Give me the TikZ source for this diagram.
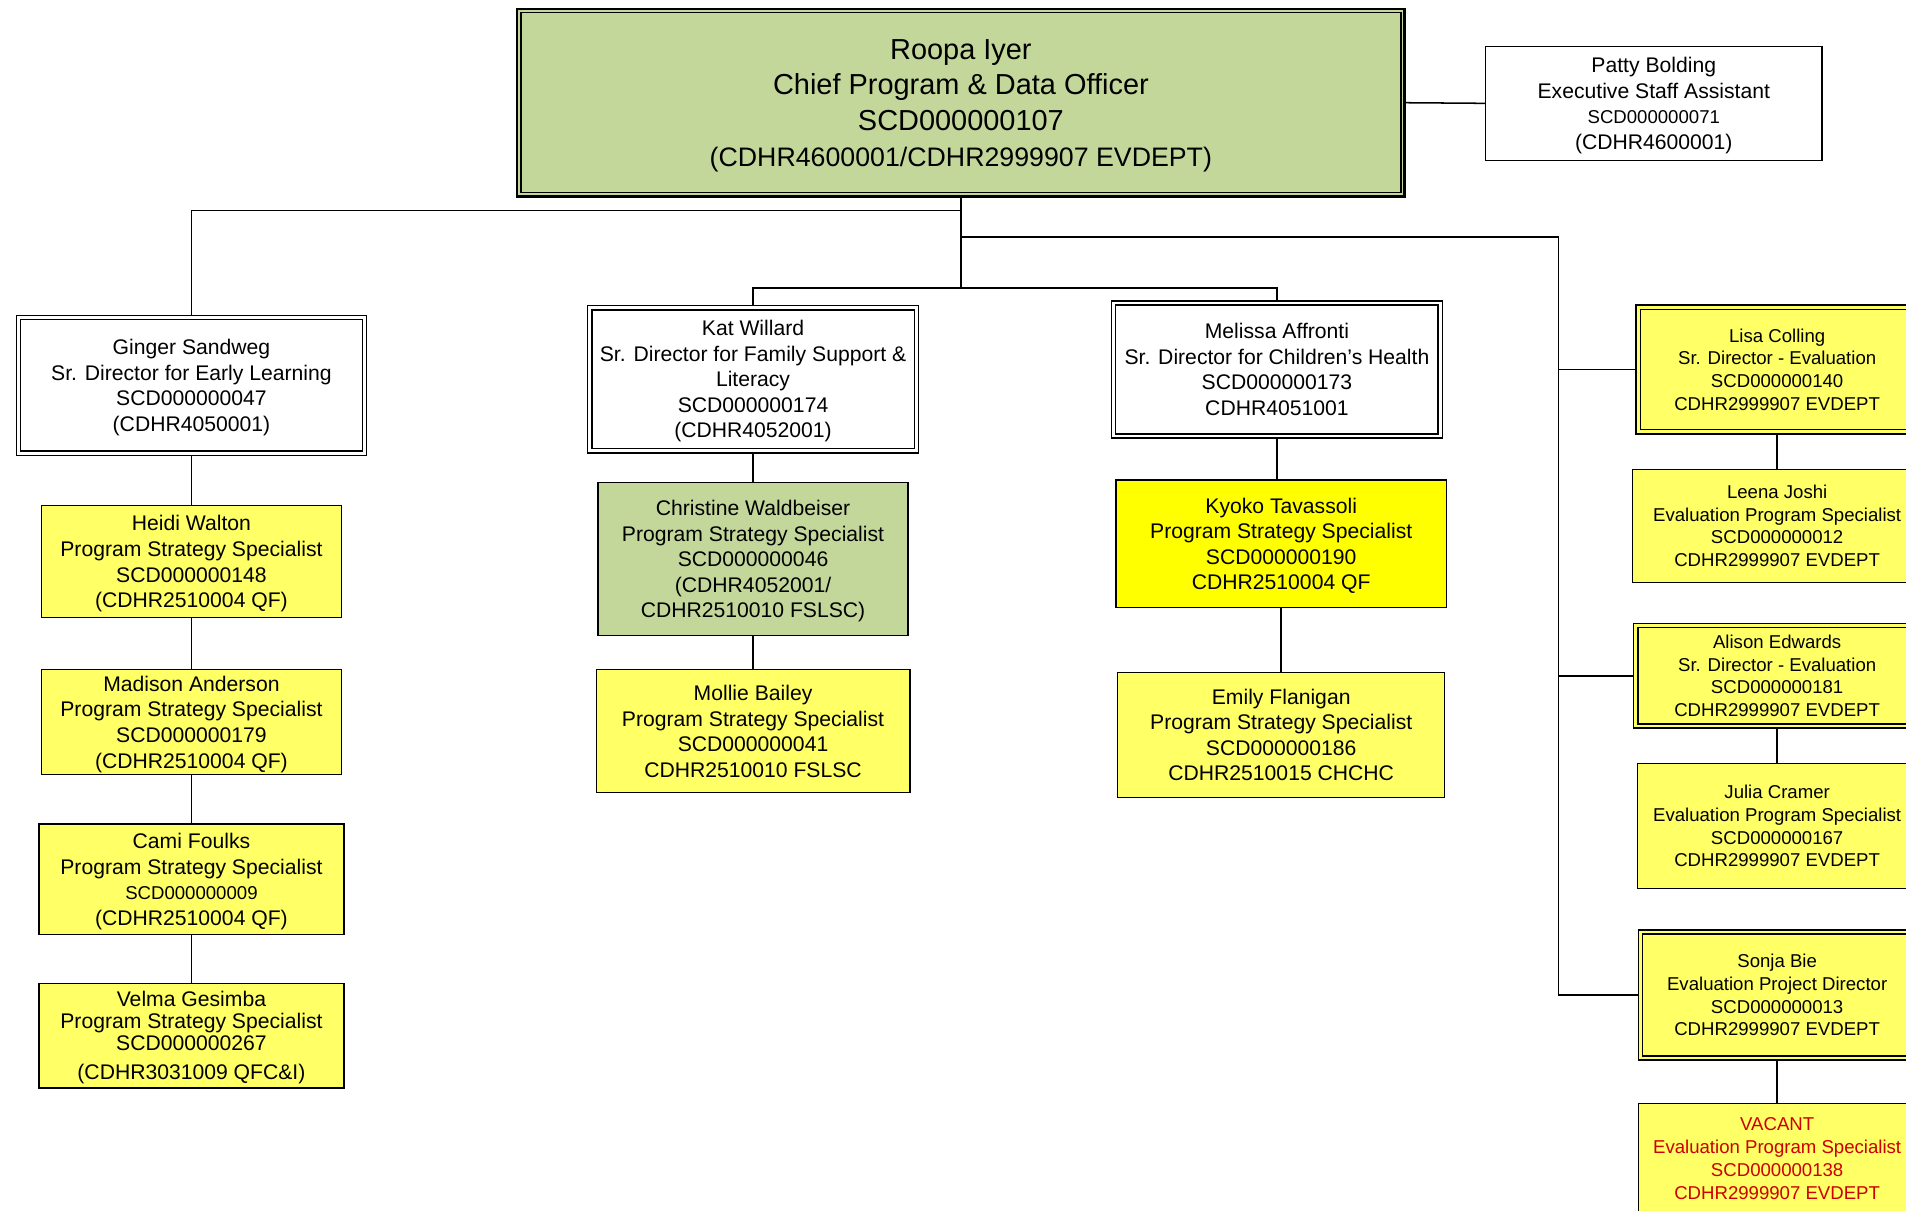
\documentclass[tikz,border=0pt]{standalone}
\usepackage{fontspec}
\setmainfont{Liberation Sans}
\definecolor{paleyel}{RGB}{255,255,102}
\definecolor{brightyel}{RGB}{255,255,0}
\definecolor{sage}{RGB}{196,215,155}
\definecolor{vacred}{RGB}{204,0,0}
\begin{document}
\begin{tikzpicture}[x=1pt,y=-1pt,
  box/.style={draw, line width=1.1pt, align=center, inner sep=0pt, anchor=center,
    text depth=0pt, font=\fontsize{17.4}{21}\selectfont},
  rbox/.style={box, font=\fontsize{15.3}{18.7}\selectfont},
  dbl/.style={line width=1.2pt},
  inner/.style={line width=1.1pt},
  conn/.style={line width=1.25pt}]
\fill[white] (0,0) rectangle (1568,996);
\useasboundingbox (0,0) rectangle (1568,996);

% root and assistant
\node[box, dbl, line width=2pt, fill=sage, minimum width=730pt, minimum height=154pt,
  font=\fontsize{23.8}{29.3}\selectfont] (root) at (790.5,84.5)
  {Roopa Iyer\\Chief Program \& Data Officer\\SCD000000107\\{\fontsize{22}{29.3}\selectfont (CDHR4600001/CDHR2999907 EVDEPT)}};
\node[box, fill=white, minimum width=277pt, minimum height=94pt] (patty) at (1360.5,85)
  {Patty Bolding\\Executive Staff Assistant\\{\fontsize{15.3}{21}\selectfont SCD000000071}\\(CDHR4600001)};

% column 1
\node[box, dbl, fill=white, minimum width=288pt, minimum height=115pt] (ginger) at (157.5,317)
  {Ginger Sandweg\\Sr. Director for Early Learning\\SCD000000047\\(CDHR4050001)};
\node[box, fill=paleyel, minimum width=247pt, minimum height=92pt] (heidi) at (157.5,462)
  {Heidi Walton\\Program Strategy Specialist\\SCD000000148\\(CDHR2510004 QF)};
\node[box, fill=paleyel, minimum width=247pt, minimum height=86pt] (madison) at (157.5,594)
  {Madison Anderson\\Program Strategy Specialist\\SCD000000179\\(CDHR2510004 QF)};
\node[box, fill=paleyel, minimum width=251pt, minimum height=91pt] (cami) at (157.5,723.5)
  {Cami Foulks\\Program Strategy Specialist\\{\fontsize{15.3}{21}\selectfont SCD000000009}\\(CDHR2510004 QF)};
\node[box, fill=paleyel, minimum width=251pt, minimum height=86pt,
  font=\fontsize{17.4}{18}\selectfont] (velma) at (157.5,852)
  {Velma Gesimba\\Program Strategy Specialist\\SCD000000267\\[6pt](CDHR3031009 QFC\&I)};

% column 2
\node[box, dbl, fill=white, minimum width=272pt, minimum height=121pt] (kat) at (619.5,312)
  {Kat Willard\\Sr. Director for Family Support \&\\Literacy\\SCD000000174\\(CDHR4052001)};
\node[box, fill=sage, minimum width=255pt, minimum height=126pt] (christine) at (619.5,460)
  {Christine Waldbeiser\\Program Strategy Specialist\\SCD000000046\\(CDHR4052001/\\CDHR2510010 FSLSC)};
\node[box, fill=paleyel, minimum width=258pt, minimum height=101pt] (mollie) at (619.5,601.5)
  {Mollie Bailey\\Program Strategy Specialist\\SCD000000041\\CDHR2510010 FSLSC};

% column 3
\node[box, dbl, fill=white, minimum width=272pt, minimum height=113pt] (melissa) at (1050.5,304)
  {Melissa Affronti\\Sr. Director for Children’s Health\\SCD000000173\\CDHR4051001};
\node[box, fill=brightyel, minimum width=272pt, minimum height=105pt] (kyoko) at (1054,447.5)
  {Kyoko Tavassoli\\Program Strategy Specialist\\SCD000000190\\CDHR2510004 QF};
\node[box, fill=paleyel, minimum width=269pt, minimum height=103pt] (emily) at (1054,604.5)
  {Emily Flanigan\\Program Strategy Specialist\\SCD000000186\\CDHR2510015 CHCHC};

% column 4
\node[rbox, dbl, fill=paleyel, minimum width=232pt, minimum height=106pt] (lisa) at (1462,304)
  {Lisa Colling\\Sr. Director - Evaluation\\SCD000000140\\CDHR2999907 EVDEPT};
\node[rbox, fill=paleyel, minimum width=238pt, minimum height=93pt] (leena) at (1462,432.5)
  {Leena Joshi\\Evaluation Program Specialist\\SCD000000012\\CDHR2999907 EVDEPT};
\node[rbox, dbl, fill=paleyel, minimum width=236pt, minimum height=86pt] (alison) at (1462,556)
  {Alison Edwards\\Sr. Director - Evaluation\\SCD000000181\\CDHR2999907 EVDEPT};
\node[rbox, fill=paleyel, minimum width=230pt, minimum height=103pt] (julia) at (1462,679.5)
  {Julia Cramer\\Evaluation Program Specialist\\SCD000000167\\CDHR2999907 EVDEPT};
\node[rbox, dbl, fill=paleyel, minimum width=228pt, minimum height=107pt] (sonja) at (1462,818.5)
  {Sonja Bie\\Evaluation Project Director\\SCD000000013\\CDHR2999907 EVDEPT};
\node[rbox, fill=paleyel, text=vacred, minimum width=228pt, minimum height=90pt] (vacant) at (1462,953)
  {VACANT\\Evaluation Program Specialist\\SCD000000138\\CDHR2999907 EVDEPT};

% inner frames of double-bordered boxes
\foreach \n in {root,ginger,kat,melissa,lisa,alison,sonja}
  \draw[inner] ([shift={(4pt,-4pt)}]\n.north west) rectangle ([shift={(-4pt,4pt)}]\n.south east);

% connectors
\coordinate (t1) at (790.5,173);
\coordinate (t2) at (790.5,195);
\coordinate (t3) at (790.5,237);
\coordinate (rv) at (1282,195);
\draw[conn] (root.east) -- (patty.west);
\draw[conn] (root.south) -- (t3);
\draw[conn] (t1) -| (ginger.north);
\draw[conn] (t3) -| (kat.north);
\draw[conn] (t3) -| (melissa.north);
\draw[conn] (t2) -- (rv) |- (sonja.west);
\draw[conn] (rv |- lisa.west) -- (lisa.west);
\draw[conn] (rv |- alison.west) -- (alison.west);

\draw[conn] (ginger.south) -- (heidi.north);
\draw[conn] (heidi.south) -- (madison.north);
\draw[conn] (madison.south) -- (cami.north);
\draw[conn] (cami.south) -- (velma.north);

\draw[conn] (kat.south) -- (christine.north);
\draw[conn] (christine.south) -- (mollie.north);

\draw[conn] (melissa.south) -- (melissa.south |- kyoko.north);
\draw[conn] (kyoko.south) -- (emily.north);

\draw[conn] (lisa.south) -- (leena.north);
\draw[conn] (alison.south) -- (julia.north);
\draw[conn] (sonja.south) -- (vacant.north);
\end{tikzpicture}
\end{document}
